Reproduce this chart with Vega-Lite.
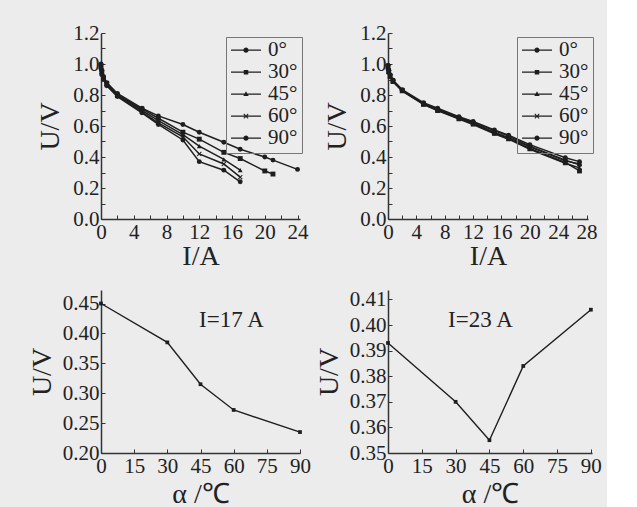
{
  "$schema": "https://vega.github.io/schema/vega-lite/v6.json",
  "background": "#ececec",
  "padding": {"left": 28, "top": 22, "right": 5, "bottom": 5},
  "config": {
    "view": {"stroke": null},
    "axis": {
      "grid": false,
      "labelFont": "Liberation Serif",
      "labelFontSize": 21,
      "labelColor": "#222",
      "labelFlush": false,
      "labelOverlap": false,
      "titleFont": "Liberation Serif",
      "titleFontSize": 28,
      "titleFontWeight": "normal",
      "titleColor": "#222",
      "domainColor": "#333",
      "domainWidth": 1.5,
      "tickColor": "#333",
      "tickSize": -4,
      "tickWidth": 1,
      "labelPadding": 6
    },
    "legend": {
      "labelFont": "Liberation Serif",
      "labelFontSize": 21,
      "labelColor": "#222"
    }
  },
  "columns": 2,
  "spacing": {"row": 71, "column": 88},
  "bounds": "flush",
  "concat": [
        {
          "width": 199,
          "height": 186,
          "data": {
            "values": [
              {"angle": "0°", "I": 0, "U": 1.0}, {"angle": "0°", "I": 0.1, "U": 0.96}, {"angle": "0°", "I": 0.3, "U": 0.92}, {"angle": "0°", "I": 0.7, "U": 0.88}, {"angle": "0°", "I": 2, "U": 0.81}, {"angle": "0°", "I": 5, "U": 0.715}, {"angle": "0°", "I": 7, "U": 0.665}, {"angle": "0°", "I": 10, "U": 0.61}, {"angle": "0°", "I": 12, "U": 0.56}, {"angle": "0°", "I": 15, "U": 0.495}, {"angle": "0°", "I": 17, "U": 0.45}, {"angle": "0°", "I": 20, "U": 0.4}, {"angle": "0°", "I": 21, "U": 0.38}, {"angle": "0°", "I": 24, "U": 0.32},
              {"angle": "30°", "I": 0, "U": 0.99}, {"angle": "30°", "I": 0.1, "U": 0.95}, {"angle": "30°", "I": 0.3, "U": 0.91}, {"angle": "30°", "I": 0.7, "U": 0.875}, {"angle": "30°", "I": 2, "U": 0.8}, {"angle": "30°", "I": 5, "U": 0.71}, {"angle": "30°", "I": 7, "U": 0.65}, {"angle": "30°", "I": 10, "U": 0.56}, {"angle": "30°", "I": 12, "U": 0.515}, {"angle": "30°", "I": 15, "U": 0.43}, {"angle": "30°", "I": 17, "U": 0.39}, {"angle": "30°", "I": 20, "U": 0.31}, {"angle": "30°", "I": 21, "U": 0.29},
              {"angle": "45°", "I": 0, "U": 0.98}, {"angle": "45°", "I": 0.1, "U": 0.95}, {"angle": "45°", "I": 0.3, "U": 0.91}, {"angle": "45°", "I": 0.7, "U": 0.87}, {"angle": "45°", "I": 2, "U": 0.8}, {"angle": "45°", "I": 5, "U": 0.7}, {"angle": "45°", "I": 7, "U": 0.635}, {"angle": "45°", "I": 10, "U": 0.545}, {"angle": "45°", "I": 12, "U": 0.47}, {"angle": "45°", "I": 15, "U": 0.385}, {"angle": "45°", "I": 17, "U": 0.315},
              {"angle": "60°", "I": 0, "U": 0.98}, {"angle": "60°", "I": 0.1, "U": 0.94}, {"angle": "60°", "I": 0.3, "U": 0.9}, {"angle": "60°", "I": 0.7, "U": 0.87}, {"angle": "60°", "I": 2, "U": 0.795}, {"angle": "60°", "I": 5, "U": 0.69}, {"angle": "60°", "I": 7, "U": 0.62}, {"angle": "60°", "I": 10, "U": 0.53}, {"angle": "60°", "I": 12, "U": 0.42}, {"angle": "60°", "I": 15, "U": 0.355}, {"angle": "60°", "I": 17, "U": 0.27},
              {"angle": "90°", "I": 0, "U": 0.97}, {"angle": "90°", "I": 0.1, "U": 0.93}, {"angle": "90°", "I": 0.3, "U": 0.9}, {"angle": "90°", "I": 0.7, "U": 0.86}, {"angle": "90°", "I": 2, "U": 0.79}, {"angle": "90°", "I": 5, "U": 0.685}, {"angle": "90°", "I": 7, "U": 0.61}, {"angle": "90°", "I": 10, "U": 0.51}, {"angle": "90°", "I": 12, "U": 0.37}, {"angle": "90°", "I": 15, "U": 0.315}, {"angle": "90°", "I": 17, "U": 0.24}
            ]
          },
          "encoding": {
            "x": {"field": "I", "type": "quantitative", "scale": {"domain": [0, 24.3], "nice": false, "zero": false},
                  "axis": {"title": "I/A", "titlePadding": 0, "values": [0,2,4,6,8,10,12,14,16,18,20,22,24], "labelExpr": "datum.value % 4 == 0 ? datum.label : ''"}},
            "y": {"field": "U", "type": "quantitative", "scale": {"domain": [0, 1.2], "nice": false},
                  "axis": {"title": "U/V", "titlePadding": 8, "values": [0,0.1,0.2,0.3,0.4,0.5,0.6,0.7,0.8,0.9,1.0,1.1,1.2], "format": ".1f", "labelExpr": "round(datum.value*10) % 2 == 0 ? datum.label : ''"}}
          },
          "layer": [
            {"mark": {"type": "line", "color": "#1e1e1e", "strokeWidth": 1.5}, "encoding": {"detail": {"field": "angle"}}},
            {"mark": {"type": "point", "filled": true, "color": "#1e1e1e", "size": 24, "opacity": 1},
             "encoding": {"shape": {"field": "angle", "type": "nominal", "scale": {"domain": ["0°","30°","45°","60°","90°"], "range": ["circle","square","triangle-up","M-1,-0.7L-0.7,-1L0,-0.3L0.7,-1L1,-0.7L0.3,0L1,0.7L0.7,1L0,0.3L-0.7,1L-1,0.7L-0.3,0Z","circle"]}, "legend": null}}},
            {"mark": {"type": "point", "filled": true, "color": "#1e1e1e", "opacity": 0},
             "encoding": {"shape": {"field": "angle", "type": "nominal", "scale": {"domain": ["0°","30°","45°","60°","90°"], "range": [
               "M-1,-0.04H1V0.04H-1ZM-0.17,0A0.17,0.17 0 1,1 0.17,0A0.17,0.17 0 1,1 -0.17,0Z",
               "M-1,-0.04H1V0.04H-1ZM-0.15,-0.15H0.15V0.15H-0.15Z",
               "M-1,-0.04H1V0.04H-1ZM0,-0.2L0.18,0.12H-0.18Z",
               "M-1,-0.04H1V0.04H-1ZM-0.17,-0.12L-0.12,-0.17L0,-0.05L0.12,-0.17L0.17,-0.12L0.05,0L0.17,0.12L0.12,0.17L0,0.05L-0.12,0.17L-0.17,0.12L-0.05,0Z",
               "M-1,-0.04H1V0.04H-1ZM-0.17,0A0.17,0.17 0 1,1 0.17,0A0.17,0.17 0 1,1 -0.17,0Z"]},
               "legend": {"title": null, "orient": "none", "legendX": 125, "legendY": 4, "strokeColor": "#777", "padding": 4, "symbolSize": 900, "symbolFillColor": "#1e1e1e", "symbolOpacity": 1, "labelOffset": 6, "rowPadding": 0, "clipHeight": 18.3,
                 "encode": {"symbols": {"update": {"fill": {"value": "#1e1e1e"}, "opacity": {"value": 1}}}}}}}}
          ],
          "resolve": {"scale": {"shape": "independent"}, "legend": {"shape": "independent"}}
        },
        {
          "width": 200,
          "height": 186,
          "data": {
            "values": [
              {"angle": "0°", "I": 0, "U": 0.99}, {"angle": "0°", "I": 0.1, "U": 0.96}, {"angle": "0°", "I": 0.3, "U": 0.93}, {"angle": "0°", "I": 0.7, "U": 0.895}, {"angle": "0°", "I": 2, "U": 0.83}, {"angle": "0°", "I": 5, "U": 0.745}, {"angle": "0°", "I": 7, "U": 0.71}, {"angle": "0°", "I": 10, "U": 0.655}, {"angle": "0°", "I": 12, "U": 0.625}, {"angle": "0°", "I": 15, "U": 0.57}, {"angle": "0°", "I": 17, "U": 0.535}, {"angle": "0°", "I": 20, "U": 0.47}, {"angle": "0°", "I": 25, "U": 0.38}, {"angle": "0°", "I": 27, "U": 0.35},
              {"angle": "30°", "I": 0, "U": 0.98}, {"angle": "30°", "I": 0.1, "U": 0.95}, {"angle": "30°", "I": 0.3, "U": 0.92}, {"angle": "30°", "I": 0.7, "U": 0.89}, {"angle": "30°", "I": 2, "U": 0.83}, {"angle": "30°", "I": 5, "U": 0.74}, {"angle": "30°", "I": 7, "U": 0.7}, {"angle": "30°", "I": 10, "U": 0.65}, {"angle": "30°", "I": 12, "U": 0.615}, {"angle": "30°", "I": 15, "U": 0.555}, {"angle": "30°", "I": 17, "U": 0.52}, {"angle": "30°", "I": 20, "U": 0.455}, {"angle": "30°", "I": 25, "U": 0.365}, {"angle": "30°", "I": 27, "U": 0.31},
              {"angle": "45°", "I": 0, "U": 0.98}, {"angle": "45°", "I": 0.1, "U": 0.95}, {"angle": "45°", "I": 0.3, "U": 0.92}, {"angle": "45°", "I": 0.7, "U": 0.885}, {"angle": "45°", "I": 2, "U": 0.825}, {"angle": "45°", "I": 5, "U": 0.74}, {"angle": "45°", "I": 7, "U": 0.7}, {"angle": "45°", "I": 10, "U": 0.645}, {"angle": "45°", "I": 12, "U": 0.61}, {"angle": "45°", "I": 15, "U": 0.55}, {"angle": "45°", "I": 17, "U": 0.515}, {"angle": "45°", "I": 20, "U": 0.45}, {"angle": "45°", "I": 25, "U": 0.36}, {"angle": "45°", "I": 27, "U": 0.33},
              {"angle": "60°", "I": 0, "U": 0.985}, {"angle": "60°", "I": 0.1, "U": 0.955}, {"angle": "60°", "I": 0.3, "U": 0.925}, {"angle": "60°", "I": 0.7, "U": 0.89}, {"angle": "60°", "I": 2, "U": 0.83}, {"angle": "60°", "I": 5, "U": 0.745}, {"angle": "60°", "I": 7, "U": 0.705}, {"angle": "60°", "I": 10, "U": 0.65}, {"angle": "60°", "I": 12, "U": 0.62}, {"angle": "60°", "I": 15, "U": 0.56}, {"angle": "60°", "I": 17, "U": 0.525}, {"angle": "60°", "I": 20, "U": 0.465}, {"angle": "60°", "I": 25, "U": 0.375}, {"angle": "60°", "I": 27, "U": 0.355},
              {"angle": "90°", "I": 0, "U": 0.99}, {"angle": "90°", "I": 0.1, "U": 0.96}, {"angle": "90°", "I": 0.3, "U": 0.93}, {"angle": "90°", "I": 0.7, "U": 0.895}, {"angle": "90°", "I": 2, "U": 0.835}, {"angle": "90°", "I": 5, "U": 0.75}, {"angle": "90°", "I": 7, "U": 0.715}, {"angle": "90°", "I": 10, "U": 0.66}, {"angle": "90°", "I": 12, "U": 0.63}, {"angle": "90°", "I": 15, "U": 0.575}, {"angle": "90°", "I": 17, "U": 0.54}, {"angle": "90°", "I": 20, "U": 0.48}, {"angle": "90°", "I": 25, "U": 0.395}, {"angle": "90°", "I": 27, "U": 0.37}
            ]
          },
          "encoding": {
            "x": {"field": "I", "type": "quantitative", "scale": {"domain": [0, 28.2], "nice": false, "zero": false},
                  "axis": {"title": "I/A", "titlePadding": 0, "values": [0,2,4,6,8,10,12,14,16,18,20,22,24,26,28], "labelExpr": "datum.value % 4 == 0 ? datum.label : ''"}},
            "y": {"field": "U", "type": "quantitative", "scale": {"domain": [0, 1.2], "nice": false},
                  "axis": {"title": "U/V", "titlePadding": 8, "values": [0,0.1,0.2,0.3,0.4,0.5,0.6,0.7,0.8,0.9,1.0,1.1,1.2], "format": ".1f", "labelExpr": "round(datum.value*10) % 2 == 0 ? datum.label : ''"}}
          },
          "layer": [
            {"mark": {"type": "line", "color": "#1e1e1e", "strokeWidth": 1.5}, "encoding": {"detail": {"field": "angle"}}},
            {"mark": {"type": "point", "filled": true, "color": "#1e1e1e", "size": 24, "opacity": 1},
             "encoding": {"shape": {"field": "angle", "type": "nominal", "scale": {"domain": ["0°","30°","45°","60°","90°"], "range": ["circle","square","triangle-up","M-1,-0.7L-0.7,-1L0,-0.3L0.7,-1L1,-0.7L0.3,0L1,0.7L0.7,1L0,0.3L-0.7,1L-1,0.7L-0.3,0Z","circle"]}, "legend": null}}},
            {"mark": {"type": "point", "filled": true, "color": "#1e1e1e", "opacity": 0},
             "encoding": {"shape": {"field": "angle", "type": "nominal", "scale": {"domain": ["0°","30°","45°","60°","90°"], "range": [
               "M-1,-0.04H1V0.04H-1ZM-0.17,0A0.17,0.17 0 1,1 0.17,0A0.17,0.17 0 1,1 -0.17,0Z",
               "M-1,-0.04H1V0.04H-1ZM-0.15,-0.15H0.15V0.15H-0.15Z",
               "M-1,-0.04H1V0.04H-1ZM0,-0.2L0.18,0.12H-0.18Z",
               "M-1,-0.04H1V0.04H-1ZM-0.17,-0.12L-0.12,-0.17L0,-0.05L0.12,-0.17L0.17,-0.12L0.05,0L0.17,0.12L0.12,0.17L0,0.05L-0.12,0.17L-0.17,0.12L-0.05,0Z",
               "M-1,-0.04H1V0.04H-1ZM-0.17,0A0.17,0.17 0 1,1 0.17,0A0.17,0.17 0 1,1 -0.17,0Z"]},
               "legend": {"title": null, "orient": "none", "legendX": 129, "legendY": 4, "strokeColor": "#777", "padding": 4, "symbolSize": 900, "symbolFillColor": "#1e1e1e", "symbolOpacity": 1, "labelOffset": 6, "rowPadding": 0, "clipHeight": 18.3,
                 "encode": {"symbols": {"update": {"fill": {"value": "#1e1e1e"}, "opacity": {"value": 1}}}}}}}}
          ],
          "resolve": {"scale": {"shape": "independent"}, "legend": {"shape": "independent"}}
        },
        {
          "width": 199,
          "height": 163,
          "data": {
            "values": [
              {"alpha": 0, "U": 0.45}, {"alpha": 30, "U": 0.385}, {"alpha": 45, "U": 0.315}, {"alpha": 60, "U": 0.272}, {"alpha": 90, "U": 0.235}
            ]
          },
          "encoding": {
            "x": {"field": "alpha", "type": "quantitative", "scale": {"domain": [0, 90], "nice": false},
                  "axis": {"title": "α /℃", "titlePadding": 4, "values": [0,15,30,45,60,75,90]}},
            "y": {"field": "U", "type": "quantitative", "scale": {"domain": [0.2, 0.4726], "nice": false, "zero": false},
                  "axis": {"title": "U/V", "titlePadding": 6, "values": [0.2,0.25,0.3,0.35,0.4,0.45], "format": ".2f"}}
          },
          "layer": [
            {"mark": {"type": "line", "color": "#1e1e1e", "strokeWidth": 1.4}},
            {"mark": {"type": "point", "shape": "square", "filled": true, "color": "#1e1e1e", "size": 14, "opacity": 1}},
            {"data": {"values": [{"alpha": 59, "U": 0.422, "label": "I=17 A"}]},
             "mark": {"type": "text", "font": "Liberation Serif", "fontSize": 23, "color": "#222"},
             "encoding": {"text": {"field": "label"}}}
          ]
        },
        {
          "width": 204,
          "height": 163,
          "data": {
            "values": [
              {"alpha": 0, "U": 0.393}, {"alpha": 30, "U": 0.37}, {"alpha": 45, "U": 0.355}, {"alpha": 60, "U": 0.384}, {"alpha": 90, "U": 0.406}
            ]
          },
          "encoding": {
            "x": {"field": "alpha", "type": "quantitative", "scale": {"domain": [0, 90.5], "nice": false},
                  "axis": {"title": "α /℃", "titlePadding": 4, "values": [0,15,30,45,60,75,90]}},
            "y": {"field": "U", "type": "quantitative", "scale": {"domain": [0.35, 0.4137], "nice": false, "zero": false},
                  "axis": {"title": "U/V", "titlePadding": 6, "values": [0.35,0.36,0.37,0.38,0.39,0.4,0.41], "format": ".2f"}}
          },
          "layer": [
            {"mark": {"type": "line", "color": "#1e1e1e", "strokeWidth": 1.4}},
            {"mark": {"type": "point", "shape": "square", "filled": true, "color": "#1e1e1e", "size": 14, "opacity": 1}},
            {"data": {"values": [{"alpha": 41, "U": 0.402, "label": "I=23 A"}]},
             "mark": {"type": "text", "font": "Liberation Serif", "fontSize": 23, "color": "#222"},
             "encoding": {"text": {"field": "label"}}}
          ]
        }
  ]
}
